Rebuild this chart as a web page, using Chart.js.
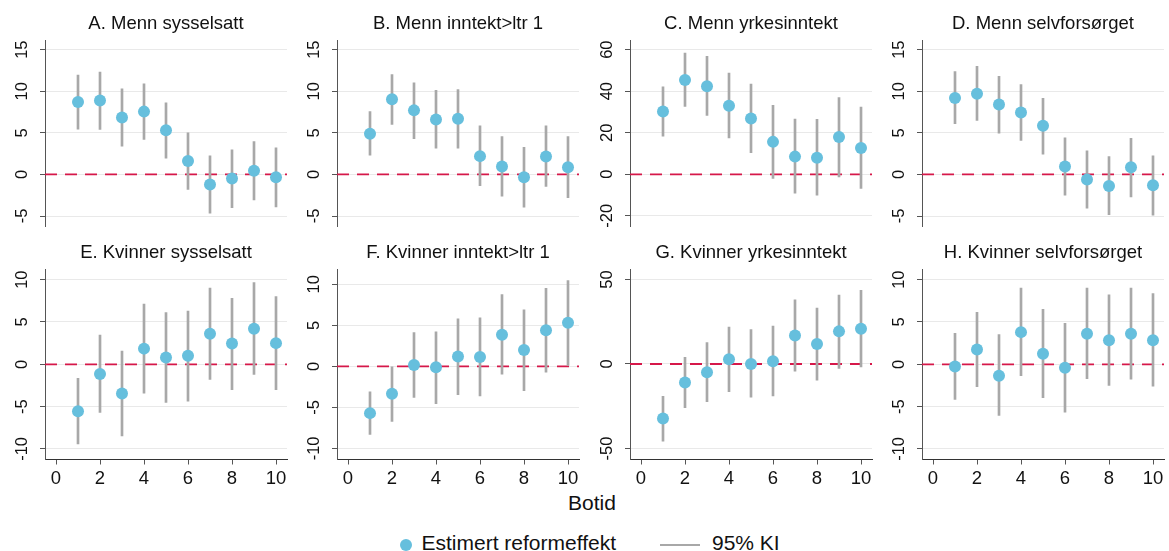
<!DOCTYPE html>
<html lang="no">
<head>
<meta charset="utf-8">
<title>Estimert reformeffekt etter botid</title>
<script src="https://cdn.jsdelivr.net/npm/chart.js@4.4.1/dist/chart.umd.min.js"></script>
<style>
  html, body { margin: 0; padding: 0; background: #fff; }
  body {
    position: relative; width: 1169px; height: 551px; overflow: hidden;
    font-family: 'Liberation Sans', Arial, sans-serif; color: #111;
  }
  canvas.panel { position: absolute; }
  .txt { position: absolute; white-space: nowrap; font-size: 21px; line-height: 1; }
  .xtitle { left: 542px; width: 100px; top: 492.2px; text-align: center; }
  .dot { position: absolute; left: 400px; top: 539px; width: 12px; height: 12px; border-radius: 50%; background: #66bfdd; }
  .rule { position: absolute; left: 660px; top: 543.5px; width: 40px; height: 2px; background: #a8a8a8; }
</style>
</head>
<body>
<div class="txt xtitle">Botid</div>
<span class="dot"></span>
<div class="txt" style="left:421.5px; top:531.5px">Estimert reformeffekt</div>
<span class="rule"></span>
<div class="txt" style="left:712px; top:531.5px">95% KI</div>

<script>
// Botid (years of residence) on the x axis, shared by every panel
const botid = [1, 2, 3, 4, 5, 6, 7, 8, 9, 10];
const xTicks = [0, 2, 4, 6, 8, 10];
const xRange = [-0.5, 10.5];

const titles = [
  'A. Menn sysselsatt', 'B. Menn inntekt>ltr 1', 'C. Menn yrkesinntekt', 'D. Menn selvforsørget',
  'E. Kvinner sysselsatt', 'F. Kvinner inntekt>ltr 1', 'G. Kvinner yrkesinntekt', 'H. Kvinner selvforsørget'
];

// point estimates and 95% confidence bounds per panel
const estA = [8.7, 8.9, 6.85, 7.55, 5.3, 1.6, -1.2, -0.5, 0.45, -0.35];
const loA  = [5.45, 5.4, 3.4, 4.2, 1.95, -1.8, -4.65, -4.0, -3.05, -3.9];
const hiA  = [11.95, 12.3, 10.3, 10.9, 8.6, 5.0, 2.25, 2.95, 3.95, 3.2];

const estB = [4.9, 9.05, 7.7, 6.6, 6.7, 2.2, 0.95, -0.35, 2.15, 0.85];
const loB  = [2.3, 6.0, 4.3, 3.15, 3.15, -1.35, -2.6, -3.95, -1.45, -2.8];
const hiB  = [7.55, 12.0, 11.0, 10.1, 10.2, 5.85, 4.55, 3.25, 5.85, 4.55];

const estC = [30.2, 45.4, 42.4, 33.0, 26.9, 15.6, 8.5, 8.0, 17.9, 12.7];
const loC  = [18.4, 32.7, 28.3, 17.5, 10.4, -2.0, -9.1, -10.1, -1.3, -6.8];
const hiC  = [42.1, 58.3, 56.8, 48.7, 43.4, 33.2, 26.6, 26.4, 36.9, 32.4];

const estD = [9.2, 9.7, 8.4, 7.45, 5.85, 0.95, -0.6, -1.4, 0.85, -1.3];
const loD  = [6.1, 6.5, 4.95, 4.1, 2.45, -2.5, -4.05, -4.85, -2.7, -4.9];
const hiD  = [12.35, 13.0, 11.8, 10.8, 9.15, 4.4, 2.85, 2.15, 4.35, 2.25];

const estE = [-5.55, -1.15, -3.45, 1.85, 0.8, 1.0, 3.6, 2.45, 4.2, 2.5];
const loE  = [-9.4, -5.7, -8.45, -3.4, -4.5, -4.35, -1.8, -3.0, -1.2, -3.0];
const hiE  = [-1.65, 3.45, 1.55, 7.1, 6.1, 6.3, 9.0, 7.8, 9.65, 8.0];

const estF = [-5.7, -3.35, 0.15, -0.1, 1.2, 1.15, 3.85, 2.0, 4.4, 5.3];
const loF  = [-8.3, -6.7, -3.8, -4.55, -3.45, -3.6, -0.95, -2.95, -0.7, 0.1];
const hiF  = [-3.1, 0.0, 4.1, 4.2, 5.8, 5.9, 8.75, 6.9, 9.5, 10.45];

const estG = [-32.3, -11.0, -4.9, 2.8, 0.0, 1.6, 16.8, 11.8, 19.3, 20.9];
const loG  = [-45.6, -25.8, -22.3, -16.4, -19.7, -18.9, -4.3, -9.5, -2.6, -1.8];
const hiG  = [-19.1, 3.9, 12.6, 21.9, 20.3, 22.5, 37.9, 33.1, 40.8, 43.6];

const estH = [-0.25, 1.75, -1.35, 3.8, 1.25, -0.4, 3.6, 2.85, 3.6, 2.85];
const loH  = [-4.15, -2.65, -6.05, -1.35, -3.95, -5.65, -1.7, -2.5, -1.75, -2.6];
const hiH  = [3.65, 6.15, 3.5, 9.0, 6.5, 4.85, 9.0, 8.2, 9.0, 8.35];

// y axis ranges and tick values
const rangeMenn = [-6.2, 16.1];
const rangeC = [-24.9, 64.4];
const rangeEH = [-11.25, 11.2];
const rangeF = [-11.35, 11.8];
const rangeG = [-56.5, 55.9];
const ticksMenn = [-5, 0, 5, 10, 15];
const ticksC = [-20, 0, 20, 40, 60];
const ticksKvinner = [-10, -5, 0, 5, 10];
const ticksG = [-50, 0, 50];

const FONT = "'Liberation Sans', Arial, sans-serif";
const DOT = '#66bfdd', CI = '#a8a8a8', RED = '#d6184a', INK = '#111';

Chart.defaults.font.family = FONT;

const panels = [
  { title: titles[0], est: estA, lo: loA, hi: hiA, range: rangeMenn, ticks: ticksMenn },
  { title: titles[1], est: estB, lo: loB, hi: hiB, range: rangeMenn, ticks: ticksMenn },
  { title: titles[2], est: estC, lo: loC, hi: hiC, range: rangeC, ticks: ticksC },
  { title: titles[3], est: estD, lo: loD, hi: hiD, range: rangeMenn, ticks: ticksMenn },
  { title: titles[4], est: estE, lo: loE, hi: hiE, range: rangeEH, ticks: ticksKvinner },
  { title: titles[5], est: estF, lo: loF, hi: hiF, range: rangeF, ticks: ticksKvinner },
  { title: titles[6], est: estG, lo: loG, hi: hiG, range: rangeG, ticks: ticksG },
  { title: titles[7], est: estH, lo: loH, hi: hiH, range: rangeEH, ticks: ticksKvinner },
];

// y tick labels are drawn turned 90°, reading upwards, centred on each tick
const yTickLabels = {
  id: 'yTickLabels',
  afterDraw(chart) {
    const s = chart.scales.y, ctx = chart.ctx;
    ctx.save();
    ctx.font = '16.5px ' + FONT;
    ctx.fillStyle = INK;
    ctx.textAlign = 'center';
    ctx.textBaseline = 'alphabetic';
    s.ticks.forEach((t) => {
      ctx.save();
      ctx.translate(s.right - 18, s.getPixelForValue(t.value));
      ctx.rotate(-Math.PI / 2);
      ctx.fillText(String(t.value), 0, 0);
      ctx.restore();
    });
    ctx.restore();
  }
};

function makePanel(p, idx) {
  const col = idx % 4, bottom = idx >= 4;
  const cv = document.createElement('canvas');
  cv.className = 'panel';
  cv.width = 293;
  cv.height = bottom ? 261 : 232;
  cv.style.left = Math.round(col * 292.4) + 'px';
  cv.style.top = (bottom ? 229 : 0) + 'px';
  document.body.appendChild(cv);

  new Chart(cv, {
    type: 'scatter',
    data: {
      datasets: [
        { type: 'scatter', order: 0, data: botid.map((x, i) => ({ x, y: p.est[i] })),
          pointRadius: 6, pointBackgroundColor: DOT, pointBorderWidth: 0 },
        { type: 'bar', order: 1, data: botid.map((x, i) => ({ x, y: [p.lo[i], p.hi[i]] })),
          backgroundColor: CI, barThickness: 2, borderWidth: 0, borderSkipped: false },
        { type: 'line', order: 2, data: xRange.map((x) => ({ x, y: 0 })),
          borderColor: RED, borderWidth: 1.8, borderDash: [12, 8], pointRadius: 0, fill: false },
      ],
    },
    options: {
      responsive: false, animation: false, events: [],
      layout: { padding: { left: 0, right: 0, top: 0, bottom: bottom ? 0 : 1.5 } },
      plugins: {
        legend: { display: false }, tooltip: { enabled: false },
        title: { display: true, text: p.title, fullSize: false, align: 'center', color: INK,
          font: { size: 18.5, weight: 'normal' }, padding: { top: 13, bottom: 5.3 } },
      },
      scales: {
        x: {
          type: 'linear', min: xRange[0], max: xRange[1], offset: false, display: bottom,
          afterBuildTicks: (s) => { s.ticks = xTicks.map((v) => ({ value: v })); },
          // the top row has no x axis, so it takes no room there
          afterFit: (s) => { s.height = bottom ? 30.5 : 0; s.paddingLeft = 0; s.paddingRight = 0; },
          grid: { offset: false, drawOnChartArea: false, drawTicks: true, tickLength: 5, color: '#555', tickColor: '#555' },
          border: { display: true, color: '#333', width: 1 },
          ticks: { font: { size: 18.5 }, color: INK, padding: 3, autoSkip: false, maxRotation: 0, minRotation: 0 },
        },
        y: {
          type: 'linear', min: p.range[0], max: p.range[1], beginAtZero: false,
          afterBuildTicks: (s) => { s.ticks = p.ticks.map((v) => ({ value: v })); },
          afterFit: (s) => { s.width = 45; s.paddingTop = 0; s.paddingBottom = 0; },
          grid: { color: '#e9e9e9', lineWidth: 1, drawTicks: true, tickLength: 5, tickColor: '#555' },
          border: { display: true, color: '#555', width: 1 },
          ticks: { display: false },
        },
      },
    },
    plugins: [yTickLabels],
  });
}

panels.forEach(makePanel);
</script>
</body>
</html>
